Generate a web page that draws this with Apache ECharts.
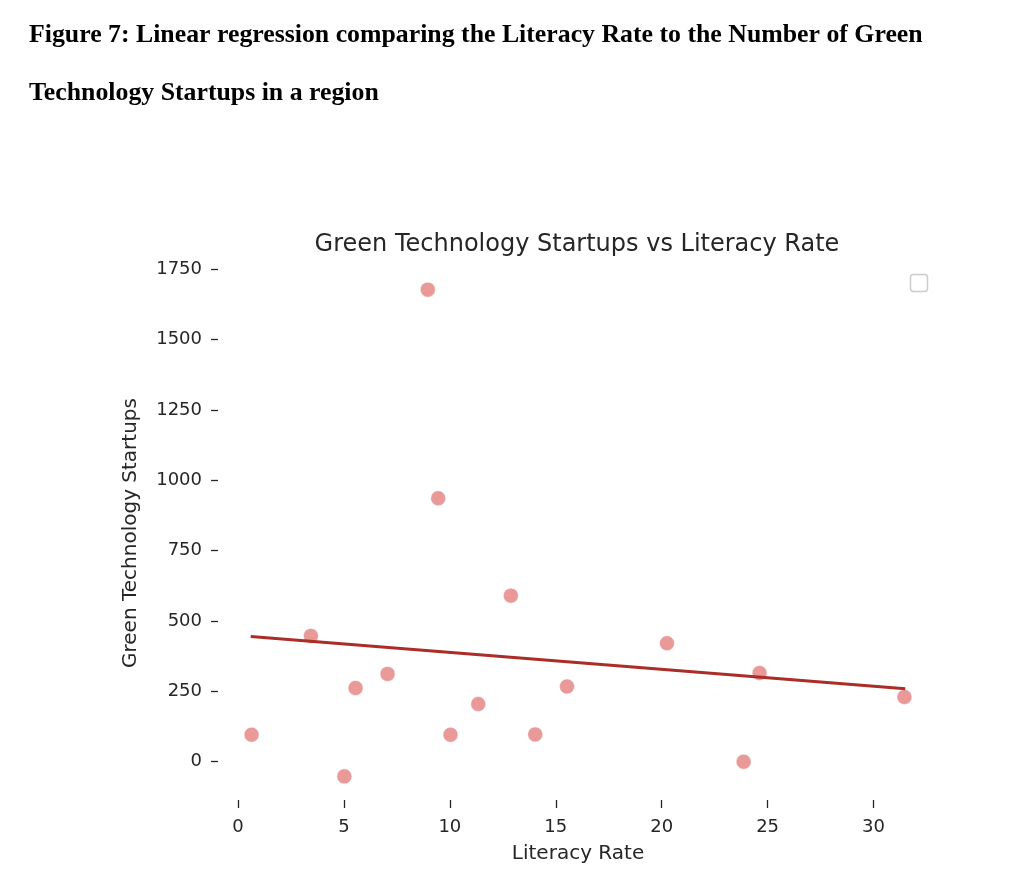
<!DOCTYPE html>
<html>
<head>
<meta charset="utf-8">
<title>Green Technology Startups vs Literacy Rate</title>
<script src="https://cdn.jsdelivr.net/npm/echarts@6/dist/echarts.min.js"></script>
<style>
  html, body { margin: 0; padding: 0; background: #fff; }
  #chart { width: 1024px; height: 889px; }
</style>
</head>
<body>
<div id="chart"></div>
<script>
// values
const literacyRate = [0.64, 3.44, 5.02, 5.55, 7.06, 8.96, 9.45, 10.03, 11.34, 12.88, 14.03, 15.53, 20.25, 23.87, 24.62, 31.46];
const startups = [96, 447, -52, 262, 312, 1677, 936, 96, 205, 590, 97, 267, 421, 0, 315, 230];

// regression line end points
const fitX = [0.6, 31.5];
const fitY = [445, 259];

const xTicks = [0, 5, 10, 15, 20, 25, 30];
const yTicks = [0, 250, 500, 750, 1000, 1250, 1500, 1750];

const chart = echarts.init(document.getElementById("chart"));

const tickFont = { fontFamily: "DejaVu Sans", fontSize: 18, color: "#262626" };
const nameFont = { fontFamily: "DejaVu Sans", fontSize: 20, color: "#262626" };
const captionFont = { fontFamily: "Liberation Serif", fontWeight: "bold", fontSize: 25.8, color: "#000" };

chart.setOption({
  backgroundColor: "#fff",
  animation: false,
  title: [
    {
      text: "Figure 7: Linear regression comparing the Literacy Rate to the Number of Green",
      left: 24,
      top: 17,
      textStyle: captionFont,
    },
    {
      text: "Technology Startups in a region",
      left: 24,
      top: 75,
      textStyle: captionFont,
    },
    {
      text: "Green Technology Startups vs Literacy Rate",
      left: 572,
      textAlign: "center",
      top: 228,
      textStyle: { fontFamily: "DejaVu Sans", fontWeight: "normal", fontSize: 24, color: "#262626" },
    },
  ],
  grid: { left: 218, top: 266, width: 720, height: 534 },
  xAxis: {
    type: "value",
    min: -0.945,
    max: 33.045,
    name: "Literacy Rate",
    nameLocation: "middle",
    nameGap: 44,
    nameTextStyle: nameFont,
    axisLine: { show: false, onZero: false },
    splitLine: { show: false },
    axisTick: { show: true, length: 8, customValues: xTicks, lineStyle: { color: "#262626", width: 1.3 } },
    axisLabel: Object.assign({ margin: 18, customValues: xTicks, formatter: (v) => String(v) }, tickFont),
  },
  yAxis: {
    type: "value",
    min: -136,
    max: 1761,
    name: "Green Technology Startups",
    nameLocation: "middle",
    nameGap: 77,
    nameRotate: 90,
    nameTextStyle: nameFont,
    axisLine: { show: false, onZero: false },
    splitLine: { show: false },
    axisTick: { show: true, length: 7, customValues: yTicks, lineStyle: { color: "#262626", width: 1.3 } },
    axisLabel: Object.assign({ margin: 16, customValues: yTicks, formatter: (v) => String(v) }, tickFont),
  },
  graphic: [
    {
      type: "rect",
      shape: { x: 910.5, y: 274.5, width: 17, height: 17, r: 3 },
      style: { fill: "#fff", stroke: "#cccccc", lineWidth: 1.5 },
    },
  ],
  series: [
    {
      type: "line",
      data: fitX.map((x, i) => [x, fitY[i]]),
      showSymbol: false,
      lineStyle: { color: "#aa2d28", width: 3 },
      z: 3,
    },
    {
      type: "scatter",
      data: literacyRate.map((x, i) => [x, startups[i]]),
      symbolSize: 15,
      itemStyle: { color: "#e2807e", borderColor: "#fff", borderWidth: 0.6 },
      z: 2,
    },
  ],
});
</script>
</body>
</html>
